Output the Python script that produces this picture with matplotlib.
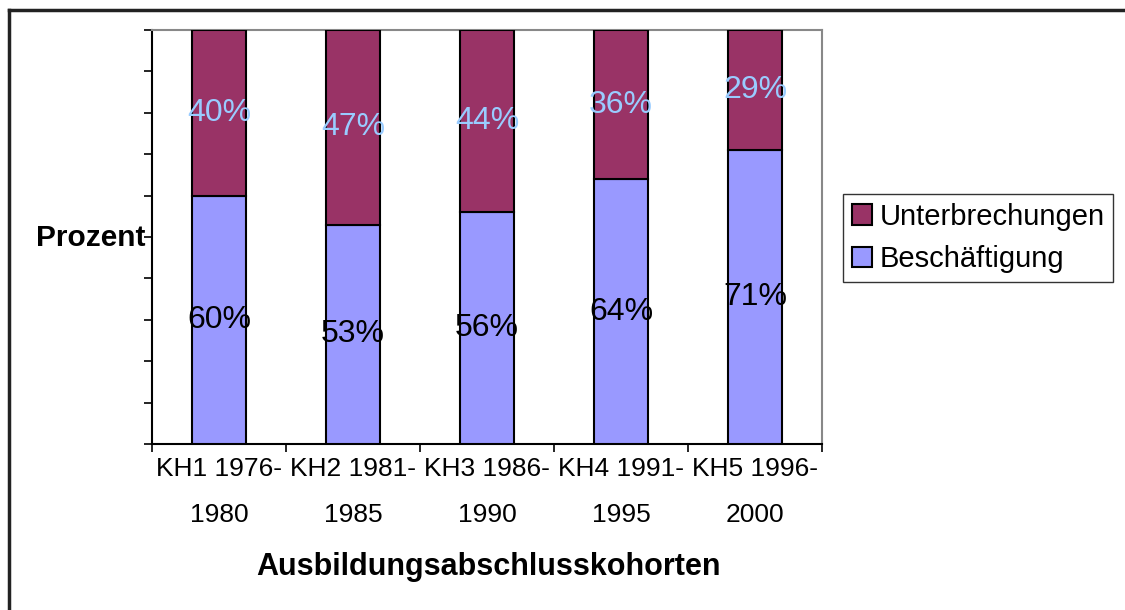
import numpy as np
import matplotlib.pyplot as plt
from matplotlib.lines import Line2D

plt.rcParams['font.family'] = ['Liberation Sans', 'DejaVu Sans']

categories = ["KH1 1976-\n1980", "KH2 1981-\n1985", "KH3 1986-\n1990",
              "KH4 1991-\n1995", "KH5 1996-\n2000"]
beschaeftigung = [60, 53, 56, 64, 71]
unterbrechungen = [40, 47, 44, 36, 29]

fig = plt.figure(figsize=(11.25, 6.1), dpi=100)
ax = fig.add_axes([152/1125, 1-444/610, 670/1125, 414/610])

x = np.arange(len(categories))
b = np.array(beschaeftigung) / 100
u = np.array(unterbrechungen) / 100
ax.bar(x, b, width=0.4, color='#9999FF', edgecolor='black', linewidth=1.5,
       label='Beschäftigung', zorder=3)
ax.bar(x, u, width=0.4, bottom=b, color='#993366', edgecolor='black', linewidth=1.5,
       label='Unterbrechungen', zorder=3)

for i in range(len(x)):
    ax.text(x[i], b[i]/2, f"{beschaeftigung[i]}%", ha='center', va='center',
            fontsize=23, color='black', zorder=4)
    ax.text(x[i], b[i] + u[i]/2, f"{unterbrechungen[i]}%", ha='center', va='center',
            fontsize=23, color='#99CCFF', zorder=4)

ax.set_xlim(-0.5, len(x) - 0.5)
ax.set_ylim(0, 1)
ax.set_xticks(np.arange(len(x) + 1) - 0.5)
ax.set_xticklabels([])
ax.set_xticks(x, minor=True)
ax.set_xticklabels(categories, minor=True, fontsize=19, linespacing=2.2)
ax.tick_params(axis='x', which='minor', length=0, pad=9)
ax.tick_params(axis='x', which='major', length=6, width=1.2, direction='out')
ax.set_yticks(np.linspace(0, 1, 11))
ax.set_yticklabels([])
ax.tick_params(axis='y', length=6, width=1.2, direction='out')

ax.spines['left'].set_linewidth(1.5)
ax.spines['bottom'].set_linewidth(1.5)
ax.spines['top'].set_color('#888888')
ax.spines['right'].set_color('#888888')
ax.spines['top'].set_linewidth(1.5)
ax.spines['right'].set_linewidth(1.5)

fig.text(488/1125, 1-567/610, "Ausbildungsabschlusskohorten", fontsize=22,
         fontweight='bold', ha='center', va='center')
fig.text(146/1125, 1-238/610, "Prozent", fontsize=21.5, fontweight='bold',
         ha='right', va='center')

handles, labels = ax.get_legend_handles_labels()
leg = fig.legend(handles[::-1], labels[::-1], loc='center left',
                 bbox_to_anchor=(843/1125, 1-238/610), fontsize=21,
                 frameon=True, fancybox=False, edgecolor='black',
                 handlelength=0.7, handleheight=0.7, handletextpad=0.25,
                 borderpad=0.3, labelspacing=0.5, borderaxespad=0)
leg.get_frame().set_linewidth(1.0)

# outer chart border (top and left visible)
fig.add_artist(Line2D([8.5/1125, 1], [1-9.5/610]*2, color='#222222', lw=2.5))
fig.add_artist(Line2D([8.5/1125]*2, [0, 1-9.5/610], color='#222222', lw=2.5))

fig.savefig("out.png", dpi=100)
